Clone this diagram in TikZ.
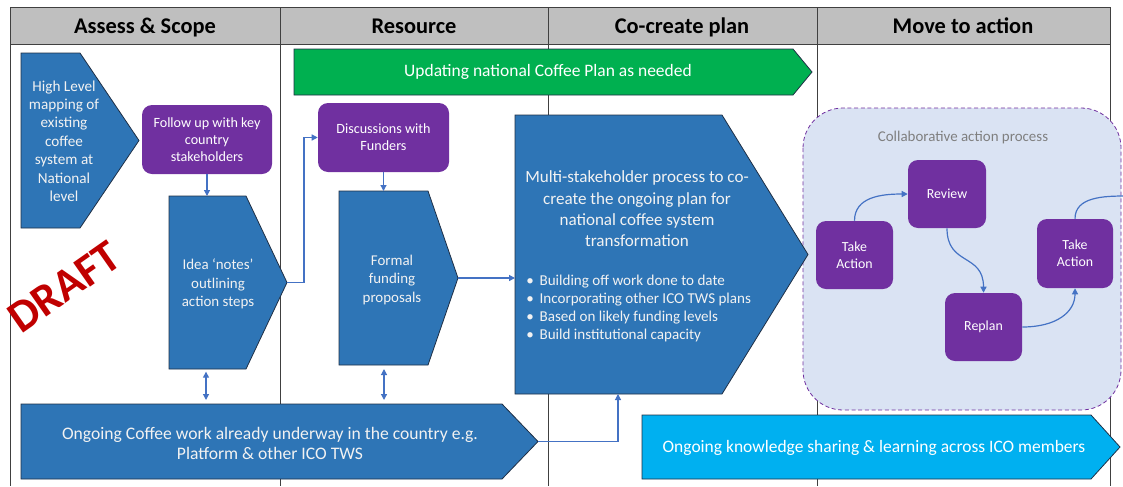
\documentclass[tikz,border=0pt]{standalone}
\usepackage{fontspec}
\setmainfont{Carlito}
\usetikzlibrary{arrows.meta}
\definecolor{boxblue}{HTML}{2E75B6}
\definecolor{boxedge}{HTML}{1F2F45}
\definecolor{boxpurple}{HTML}{7030A0}
\definecolor{boxgreen}{HTML}{00B050}
\definecolor{boxcyan}{HTML}{00B0F0}
\definecolor{arrowblue}{HTML}{4472C4}
\definecolor{collabfill}{HTML}{DAE3F3}
\definecolor{headgray}{HTML}{BFBFBF}
\definecolor{gridgray}{HTML}{404040}
\definecolor{draftred}{HTML}{C00000}
\definecolor{boxtext}{HTML}{F2F2F2}
\definecolor{titlegray}{HTML}{7F7F7F}
\newcommand{\pentshape}[6]{%
  \path[#1] (#2,#3) -- (#4,#3) -- (#5,{(#3+#6)/2}) -- (#4,#6) -- (#2,#6) -- cycle;}
\tikzset{
  conn/.style={draw=arrowblue, line width=0.9pt, -{Triangle[length=4.5pt,width=4.5pt]}},
  dconn/.style={draw=arrowblue, line width=0.9pt, {Triangle[length=4.5pt,width=4.5pt]}-{Triangle[length=4.5pt,width=4.5pt]}},
  bluefill/.style={fill=boxblue, draw=boxedge, line width=0.6pt},
  purplebox/.style={fill=boxpurple, rounded corners=7.5pt, text=white, align=center, inner sep=0pt},
  txt/.style={text=boxtext, align=center, inner sep=0pt},
  headtxt/.style={font=\fontsize{16.8}{18}\selectfont\bfseries, text=black, anchor=base, inner sep=0pt},
  grid/.style={draw=gridgray, line width=0.6pt}
}
\begin{document}
\begin{tikzpicture}[x=0.75pt,y=-0.75pt]
\useasboundingbox (0,0) rectangle (1123,486);
% header and grid
\fill[headgray] (10.7,7.3) rectangle (1110,44.3);
\draw[grid] (10.7,7.3) -- (1110,7.3);
\draw[grid] (10.7,44.3) -- (1110,44.3);
\foreach \gx in {10.7,280,548,817,1110} {\draw[grid] (\gx,7.3) -- (\gx,486);}
\node[headtxt] (h1) at (145,33) {Assess \& Scope};
\node[headtxt] (h2) at (414,33) {Resource};
\node[headtxt] (h3) at (682,33) {Co-create plan};
\node[headtxt] (h4) at (963,33) {Move to action};

% collaborative action area
\path[fill=collabfill, draw=boxpurple, line width=0.6pt, dash pattern=on 3pt off 2pt, rounded corners=30pt] (803,108) rectangle (1121,410);
\node[text=titlegray, font=\fontsize{11.2}{13}\selectfont] (collab) at (963,138) {Collaborative action process};

% green arrow
\pentshape{fill=boxgreen, draw=boxedge, line width=0.6pt}{294}{49}{793}{812}{95}
\node[text=white, font=\fontsize{13.1}{15}\selectfont] (green) at (548,72) {Updating national Coffee Plan as needed};

% high level
\pentshape{bluefill}{21}{53}{80}{139}{228}
\node[txt, font=\fontsize{11.4}{13.8}\selectfont] (high) at (64,141) {High Level\\mapping of\\existing\\coffee\\system at\\National\\level};

% follow up
\node[purplebox, minimum width=97.5pt, minimum height=51.75pt, font=\fontsize{10.6}{12.75}\selectfont] (follow) at (207,139.5) {Follow up with key\\country\\stakeholders};

% idea notes
\pentshape{bluefill}{169}{196}{246}{287}{369}
\coordinate (ideatop) at (207,196);
\coordinate (ideatip) at (287,282.5);
\coordinate (ideabot) at (206,369);
\node[txt, font=\fontsize{11.2}{13.9}\selectfont] (idea) at (218,284) {Idea ‘notes’\\outlining\\action steps};

% discussions
\node[purplebox, minimum width=98.25pt, minimum height=51.75pt, font=\fontsize{10.6}{12.75}\selectfont] (disc) at (383.5,137.5) {Discussions with\\Funders};

% formal funding
\pentshape{bluefill}{339}{191}{428}{458}{365}
\coordinate (formaltop) at (383.5,191);
\coordinate (formaltip) at (458,278);
\coordinate (formalbot) at (384,365);
\node[txt, font=\fontsize{11.2}{13.9}\selectfont] (formal) at (392,280) {Formal\\funding\\proposals};

% multi-stakeholder
\pentshape{bluefill}{515}{115}{722}{808}{394}
\coordinate (multileft) at (515,278);
\coordinate (multibot) at (618,394);
\node[txt, font=\fontsize{12.8}{16}\selectfont] (multi) at (637,209) {Multi-stakeholder process to co-\\create the ongoing plan for\\national coffee system\\transformation};
\node[txt, align=left, anchor=west, font=\fontsize{11.3}{13.5}\selectfont] (bullets) at (526,308) {\makebox[10pt][l]{•}Building off work done to date\\\makebox[10pt][l]{•}Incorporating other ICO TWS plans\\\makebox[10pt][l]{•}Based on likely funding levels\\\makebox[10pt][l]{•}Build institutional capacity};

% ongoing coffee work
\pentshape{bluefill}{21}{404}{502}{538}{479}
\coordinate (ongoingtip) at (538,441.5);
\coordinate (ongtopA) at (206,404);
\coordinate (ongtopB) at (384,404);
\node[txt, font=\fontsize{13.2}{15}\selectfont] (ongoing) at (270,443) {Ongoing Coffee work already underway in the country e.g.\\Platform \& other ICO TWS};

% knowledge sharing
\pentshape{fill=boxcyan, draw=boxedge, line width=0.6pt}{642}{415}{1091}{1120}{479}
\node[text=white, font=\fontsize{13.1}{15}\selectfont] (know) at (874,448) {Ongoing knowledge sharing \& learning across ICO members};

% purple boxes in action cycle
\node[purplebox, minimum width=57.75pt, minimum height=51pt, font=\fontsize{10.4}{12.75}\selectfont] (takeL) at (854.5,255) {Take\\Action};
\node[purplebox, minimum width=58.5pt, minimum height=51pt, font=\fontsize{10.4}{12.75}\selectfont] (review) at (947,194) {Review};
\node[purplebox, minimum width=57.75pt, minimum height=51pt, font=\fontsize{10.4}{12.75}\selectfont] (replan) at (983.5,327) {Replan};
\node[purplebox, minimum width=57pt, minimum height=51.75pt, font=\fontsize{10.4}{12.75}\selectfont] (takeR) at (1075,253.5) {Take\\Action};
\coordinate (offR) at (1132,196);

% DRAFT
\node[rotate=35, text=draftred, font=\fontsize{34}{34}\selectfont\bfseries] (draft) at (64,287) {DRAFT};

% connectors
\draw[conn] (follow.south) -- (ideatop);
\draw[conn] (ideatip) -- ++(17,0) |- (disc.west);
\draw[conn] (disc.south) -- (formaltop);
\draw[conn] (formaltip) -- (multileft);
\draw[dconn, shorten <=2pt, shorten >=3pt] (ideabot) -- (ongtopA);
\draw[dconn, shorten <=3pt, shorten >=3pt] (formalbot) -- (ongtopB);
\draw[conn] (ongoingtip) -| (multibot);
\draw[conn] (takeL.north) .. controls +(0,-24) and +(-26,0) .. (review.west);
\draw[conn] (review.south) .. controls +(0,38) and +(0,-40) .. (replan.north);
\draw[conn] (replan.east) .. controls +(34,0) and +(0,24) .. (takeR.south);
\draw[conn] (takeR.north) .. controls +(0,-22) and +(-28,0) .. (offR);
\end{tikzpicture}
\end{document}
